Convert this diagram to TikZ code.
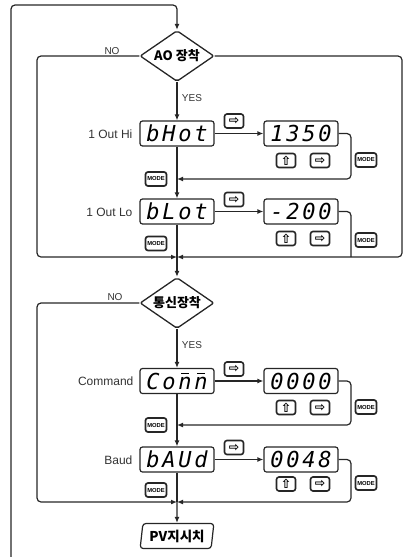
\documentclass[tikz,border=0pt]{standalone}
\usepackage{fontspec}
\setmainfont{Liberation Sans}
\newfontfamily\krfont{Noto Sans CJK KR}
\newfontfamily\symfont{DejaVu Sans}
\newfontfamily\segfont{DejaVu Sans Mono}
\usetikzlibrary{arrows.meta,shapes.geometric}
\newcommand\sd[1]{\makebox[16pt]{#1}}
\newcommand\sdbar[1]{\makebox[16pt]{\rlap{\hspace*{3pt}\raisebox{15pt}{\rule{8pt}{1.6pt}}}#1}}
\tikzset{
  disp/.style={draw, rounded corners=2.5pt, minimum width=74pt, minimum height=25pt, inner sep=0pt, line width=1.2pt, font=\segfont\itshape\fontsize{22}{22}\selectfont},
  dec/.style={draw, shape=diamond, aspect=1.45, minimum width=74pt, minimum height=51pt, inner sep=0pt, rounded corners=2pt, line width=1.3pt, font=\krfont\bfseries\fontsize{13}{13}\selectfont},
  arrowkey/.style={draw, line width=1.6pt, rounded corners=2.5pt, minimum width=19pt, minimum height=14pt, inner sep=0pt, font=\symfont\bfseries\fontsize{12.5}{12.5}\selectfont},
  modekey/.style={draw, line width=1.7pt, rounded corners=2.5pt, minimum width=21pt, minimum height=14pt, inner sep=0pt, font=\bfseries\fontsize{5.8}{5.8}\selectfont},
  lbl/.style={font=\fontsize{12}{12}\selectfont, text=black!80, anchor=east, inner sep=0pt},
  yn/.style={font=\fontsize{10}{10}\selectfont, text=black!80, inner sep=0pt},
  flow/.style={-{Latex[length=6pt,width=5pt]}, rounded corners=4pt},
  conn/.style={rounded corners=4pt},
  pvbox/.style={draw, shape=trapezium, trapezium left angle=80, trapezium right angle=100, trapezium stretches=true, minimum width=74pt, minimum height=25pt, inner sep=0pt, rounded corners=3pt, line width=1.2pt, font=\krfont\bfseries\fontsize{13.5}{13.5}\selectfont}
}
\begin{document}
\begin{tikzpicture}[x=1pt,y=-1pt,line width=1.2pt,draw=black!85]
\useasboundingbox (0,0) rectangle (405,557);
% decisions
\node[dec] (ao) at (177,56) {AO 장착};
\node[dec] (d2) at (177,303) {통신장착};
% displays
\node[disp] (bhot) at (177,133.5) {\sd{b}\sd{H}\sd{o}\sd{t}};
\node[disp] (v1) at (301,133.5) {\sd{1}\sd{3}\sd{5}\sd{0}};
\node[disp] (blot) at (177,211.5) {\sd{b}\sd{L}\sd{o}\sd{t}};
\node[disp] (v2) at (301,211.5) {\sd{-}\sd{2}\sd{0}\sd{0}};
\node[disp] (cmd) at (177,381) {\sd{C}\sd{o}\sdbar{n}\sdbar{n}};
\node[disp] (v3) at (301,381) {\sd{0}\sd{0}\sd{0}\sd{0}};
\node[disp] (baud) at (177,459.5) {\sd{b}\sd{A}\sd{U}\sd{d}};
\node[disp] (v4) at (301,459.5) {\sd{0}\sd{0}\sd{4}\sd{8}};
\node[pvbox] (pv) at (177,536) {PV지시치};
% labels
\node[lbl] (l1) at (133,134) {1 Out Hi};
\node[lbl] (l2) at (133,212) {1 Out Lo};
\node[lbl] (l3) at (134,381.5) {Command};
\node[lbl] (l4) at (133,460) {Baud};
\node[yn] (no1) at (112,51) {NO};
\node[yn] (yes1) at (192,98) {YES};
\node[yn] (no2) at (115,297) {NO};
\node[yn] (yes2) at (192,345) {YES};
% keys
\node[arrowkey] (k1) at (234,121) {⇨};
\node[arrowkey] (k2) at (234,199.5) {⇨};
\node[arrowkey] (k3) at (234,369) {⇨};
\node[arrowkey] (k4) at (234,447.5) {⇨};
\node[arrowkey] (u1) at (286,160.5) {⇧};
\node[arrowkey] (r1k) at (320,160.5) {⇨};
\node[arrowkey] (u2) at (286,238.5) {⇧};
\node[arrowkey] (r2k) at (320,238.5) {⇨};
\node[arrowkey] (u3) at (286,407.5) {⇧};
\node[arrowkey] (r3k) at (320,407.5) {⇨};
\node[arrowkey] (u4) at (286,484) {⇧};
\node[arrowkey] (r4k) at (320,484) {⇨};
\node[modekey] (mr1) at (366,160) {MODE};
\node[modekey] (mr2) at (366,240) {MODE};
\node[modekey] (mr3) at (366,407) {MODE};
\node[modekey] (mr4) at (366,483) {MODE};
\node[modekey] (ml1) at (156,179) {MODE};
\node[modekey] (ml2) at (156,243.5) {MODE};
\node[modekey] (ml3) at (156,425) {MODE};
\node[modekey] (ml4) at (156,490) {MODE};
% coordinates
\coordinate (start) at (11,557);
\coordinate (m1) at (177,257);
\coordinate (m2) at (177,502);
\coordinate (ret1) at (177,179);
\coordinate (ret3) at (177,425);
% connectors
\draw[flow] (start) -- (11,5) -| (ao.north);
\draw[flow] (ao.west) -| (37,257) -- (m1);
\draw[flow] (ao.east) -| (402,257) -- (m1);
\draw[flow] (ao.south) -- (bhot.north);
\draw[flow] (bhot.east) -- (v1.west);
\draw[flow] (v1.east) -| (351,179) -- (ret1);
\draw[flow] (bhot.south) -- (blot.north);
\draw[flow] (blot.east) -- (v2.west);
\draw[conn] (v2.east) -| (351,257);
\draw (blot.south) -- (m1);
\draw[flow] (m1) -- (d2.north);
\draw[flow] (d2.west) -| (37,502) -- (m2);
\draw[flow] (d2.south) -- (cmd.north);
\draw[flow] (cmd.east) -- (v3.west);
\draw[flow] (v3.east) -| (351,425) -- (ret3);
\draw[flow] (cmd.south) -- (baud.north);
\draw[flow] (baud.east) -- (v4.west);
\draw[flow] (v4.east) -| (351,502) -- (m2);
\draw (baud.south) -- (m2);
\draw[flow] (m2) -- (pv.north);
\end{tikzpicture}
\end{document}
